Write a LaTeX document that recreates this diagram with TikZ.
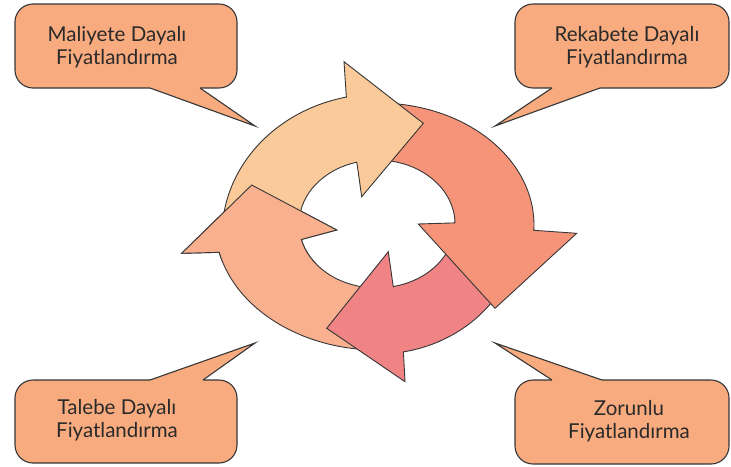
\documentclass[tikz,border=0pt]{standalone}
\usepackage{fontspec}
\setmainfont{Lato}
\usetikzlibrary{calc}
\definecolor{bubblefill}{HTML}{F8AB7E}
\definecolor{edgegray}{HTML}{363636}
\definecolor{textgray}{HTML}{2A2A2A}
\definecolor{peach}{HTML}{FBCA9A}
\definecolor{salmon}{HTML}{F59478}
\definecolor{rose}{HTML}{F08383}
\definecolor{blush}{HTML}{F9B08F}
% outlines of the four curved arrows (screen coordinates, y downwards);
% the hole in the middle is one ellipse centred at (377,224)
\newcommand\peachoutline{($(379,235)+(-178:157 and 141)$)
  arc[start angle=-178, end angle=-102, x radius=157, y radius=141]
  -- (344,61.7) -- (423.3,123.3) -- (361.7,196.7)
  -- ($(377,224)+(-105:78 and 64)$)
  arc[start angle=-105, end angle=-178, x radius=78, y radius=64] -- cycle}
\newcommand\salmonoutline{($(378,225)+(-84:156 and 122)$)
  arc[start angle=-84, end angle=2.5, x radius=156, y radius=122]
  -- (576.7,233.3) -- (495,308.3) -- (418.3,224)
  -- ($(377,224)+(-1:78 and 64)$)
  arc[start angle=-1, end angle=-84, x radius=78, y radius=64] -- cycle}
\newcommand\roseoutline{($(378,225)+(30:142 and 129)$)
  arc[start angle=30, end angle=79.7, x radius=142, y radius=129]
  -- (405,381.7) -- (326.7,328.3) -- (388.3,251.7)
  -- ($(377,224)+(78:78 and 64)$)
  arc[start angle=78, end angle=16, x radius=78, y radius=64] -- cycle}
\newcommand\blushoutline{($(378,224)+(96:163 and 126)$)
  arc[start angle=96, end angle=167, x radius=163, y radius=126]
  -- (181.7,253.3) -- (251.7,185) -- (336.7,230)
  -- ($(377,224)+(166:78 and 64)$)
  arc[start angle=166, end angle=96.6, x radius=78, y radius=64] -- cycle}
\begin{document}
\begin{tikzpicture}[x=1pt,y=-1pt,
  bubble/.style={fill=bubblefill, draw=edgegray, line width=1.1pt, rounded corners=18pt},
  bubbleedge/.style={draw=edgegray, line width=1.1pt},
  bubbletext/.style={font=\fontsize{20.5}{23.5}\selectfont, text=textgray, align=center, inner sep=0pt},
  cyclearrow/.style={draw=edgegray, line width=0.9pt, line join=miter},
]
\useasboundingbox (0,0) rectangle (731,466);

% speech bubbles
\draw[bubble] (15,4) rectangle (237,88);
\fill[bubblefill] (150,85) -- (150,88) -- (255,126) -- (200,88) -- (200,85) -- cycle;
\draw[bubbleedge] (150,88) -- (255,126) -- (200,88);

\draw[bubble] (515,4) rectangle (729,88);
\fill[bubblefill] (552,85) -- (552,88) -- (495,126) -- (600,88) -- (600,85) -- cycle;
\draw[bubbleedge] (552,88) -- (495,126) -- (600,88);

\draw[bubble] (15,380) rectangle (237,463);
\fill[bubblefill] (150,383) -- (150,380) -- (255,343) -- (203,380) -- (203,383) -- cycle;
\draw[bubbleedge] (150,380) -- (255,343) -- (203,380);

\draw[bubble] (515,380) rectangle (729,464);
\fill[bubblefill] (552,383) -- (552,380) -- (495,343) -- (602,380) -- (602,383) -- cycle;
\draw[bubbleedge] (552,380) -- (495,343) -- (602,380);

\node[bubbletext] (maliyet) at (117,47) {Maliyete Dayalı\\Fiyatlandırma};
\node[bubbletext] (rekabet) at (627,47) {Rekabete Dayalı\\Fiyatlandırma};
\node[bubbletext] (talep) at (117,420) {Talebe Dayalı\\Fiyatlandırma};
\node[bubbletext] (zorunlu) at (629,421) {Zorunlu\\Fiyatlandırma};

% cycle of arrows, each head lying over the next tail
\draw[cyclearrow, fill=blush] \blushoutline;
\draw[cyclearrow, fill=rose] \roseoutline;
\draw[cyclearrow, fill=salmon] \salmonoutline;
\draw[cyclearrow, fill=peach] \peachoutline;
\begin{scope}
  \clip (170,175) rectangle (345,262);
  \draw[cyclearrow, fill=blush] \blushoutline;
\end{scope}
\end{tikzpicture}
\end{document}
